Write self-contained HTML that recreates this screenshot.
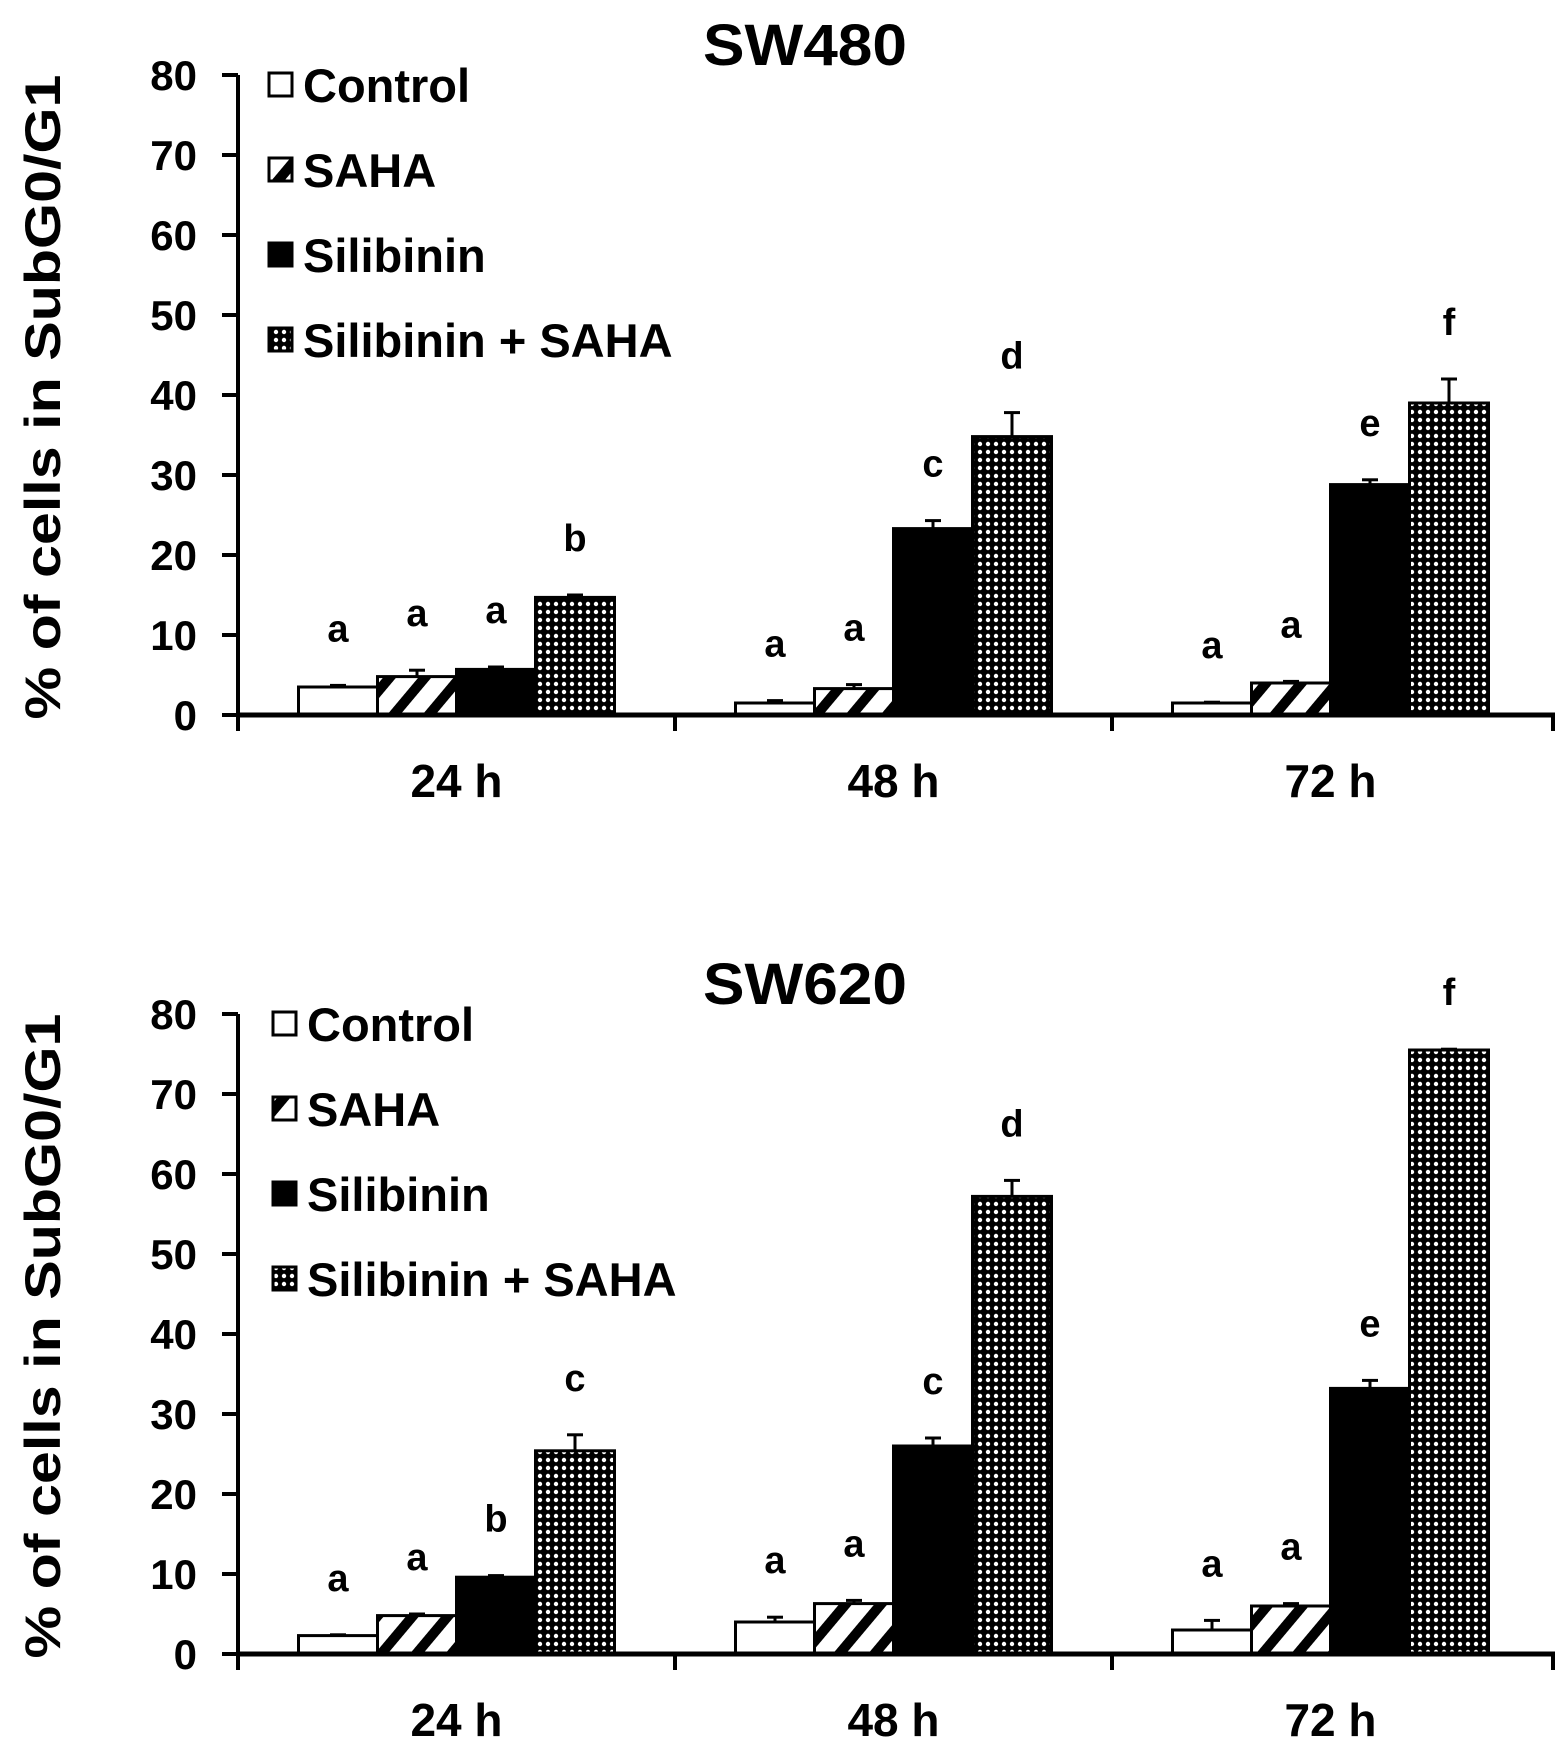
<!DOCTYPE html>
<html><head><meta charset="utf-8"><style>
body{margin:0;background:#fff;}
svg text{font-family:"Liberation Sans",Arial,sans-serif;font-weight:bold;fill:#000;}
</style></head><body>
<svg id="chart" width="1559" height="1755" xmlns="http://www.w3.org/2000/svg">
<defs>
<pattern id="hatch" patternUnits="userSpaceOnUse" width="27" height="27" patternTransform="rotate(40)">
<rect width="27" height="27" fill="#fff"/><rect width="10" height="27" fill="#000"/></pattern>
<pattern id="dots" patternUnits="userSpaceOnUse" width="8" height="8">
<rect width="8" height="8" fill="#000"/><circle cx="4" cy="4" r="2.2" fill="#fff"/></pattern>
</defs>
</svg>
<script>
const categories=["24 h","48 h","72 h"];
const seriesNames=["Control","SAHA","Silibinin","Silibinin + SAHA"];
const yTicks=[0,10,20,30,40,50,60,70,80];
const sw480Values=[[3.5,4.8,5.7,14.7],[1.5,3.3,23.3,34.8],[1.5,4.0,28.8,39.0]];
const sw480Errors=[[0.2,0.8,0.3,0.3],[0.3,0.5,1.0,3.0],[0.1,0.2,0.6,3.0]];
const sw480Letters=[["a","a","a","b"],["a","a","c","d"],["a","a","e","f"]];
const sw620Values=[[2.3,4.8,9.6,25.4],[4.0,6.3,26.0,57.2],[3.0,6.0,33.2,75.5]];
const sw620Errors=[[0.1,0.2,0.2,2.0],[0.6,0.4,1.0,2.0],[1.2,0.3,1.0,0.1]];
const sw620Letters=[["a","a","b","c"],["a","a","c","d"],["a","a","e","f"]];

const NS="http://www.w3.org/2000/svg";
const svg=document.getElementById('chart');
const fills=["#fff","url(#hatch)","#000","url(#dots)"];
function mk(tag,attrs,parent,text){const e=document.createElementNS(NS,tag);for(const k in attrs)e.setAttribute(k,attrs[k]);if(text!==undefined)e.textContent=text;(parent||svg).appendChild(e);return e;}

function panel(title,values,errors,letters,zeroY,legendX,prefix){
  const g=mk('g',{});
  
  
  const top=zeroY-640, axisX=238, xEnd=1553, groupW=437, barW=79;
  const y=v=>zeroY-v*8;
  const cx=i=>axisX+groupW*(i+0.5);
  let t=mk('text',{x:805,y:top-10,'font-size':58,'text-anchor':'middle',textLength:204,lengthAdjust:'spacingAndGlyphs'},g,title);
  
  t=mk('text',{transform:`translate(60,${(top+zeroY)/2+2}) rotate(-90)`,'font-size':50,'text-anchor':'middle',textLength:645,lengthAdjust:'spacingAndGlyphs'},g,'% of cells in SubG0/G1');
  
  yTicks.forEach(v=>{
    const l=mk('line',{x1:222,x2:axisX,y1:y(v),y2:y(v),stroke:'#000','stroke-width':4},g);
    
    const tl=mk('text',{x:197,y:y(v)+15,'font-size':42,'text-anchor':'end'},g,String(v));
    
  });
  let a=mk('line',{x1:axisX,x2:axisX,y1:top,y2:zeroY+16,stroke:'#000','stroke-width':4},g);
  
  categories.forEach((c,i)=>{
    values[i].forEach((v,j)=>{
      const x0=cx(i)-2*barW+j*barW;
      const e=errors[i][j];
      const el=mk('line',{x1:x0+barW/2,x2:x0+barW/2,y1:y(v),y2:y(v+e),stroke:'#000','stroke-width':3},g);
      
      const ec=mk('line',{x1:x0+barW/2-8,x2:x0+barW/2+8,y1:y(v+e),y2:y(v+e),stroke:'#000','stroke-width':3},g);
      
      const r=mk('rect',{x:x0,y:y(v),width:barW,height:v*8,fill:fills[j],stroke:'#000','stroke-width':3},g);
      
      const lt=mk('text',{x:x0+barW/2,y:y(v+e+5.5),'font-size':38,'text-anchor':'middle'},g,letters[i][j]);
      
    });
    const xl=mk('text',{x:cx(i),y:zeroY+82,'font-size':46,'text-anchor':'middle'},g,c);
    
    if(i>0){const tk=mk('line',{x1:axisX+groupW*i,x2:axisX+groupW*i,y1:zeroY,y2:zeroY+16,stroke:'#000','stroke-width':4},g);
      }
  });
  const tk=mk('line',{x1:xEnd,x2:xEnd,y1:zeroY,y2:zeroY+16,stroke:'#000','stroke-width':4},g);
  
  a=mk('line',{x1:axisX-2,x2:xEnd+2,y1:zeroY,y2:zeroY,stroke:'#000','stroke-width':5},g);
  
  seriesNames.forEach((s,j)=>{
    const ly=top+10+j*85;
    const le=mk('g',{},g);
    
    mk('rect',{x:legendX,y:ly-12,width:23,height:23,fill:fills[j],stroke:'#000','stroke-width':3},le);
    mk('text',{x:legendX+34,y:ly+17,'font-size':47},le,s);
  });
}
panel('SW480',sw480Values,sw480Errors,sw480Letters,715,269,'sw480');
panel('SW620',sw620Values,sw620Errors,sw620Letters,1654,273,'sw620');
</script>
</body></html>
